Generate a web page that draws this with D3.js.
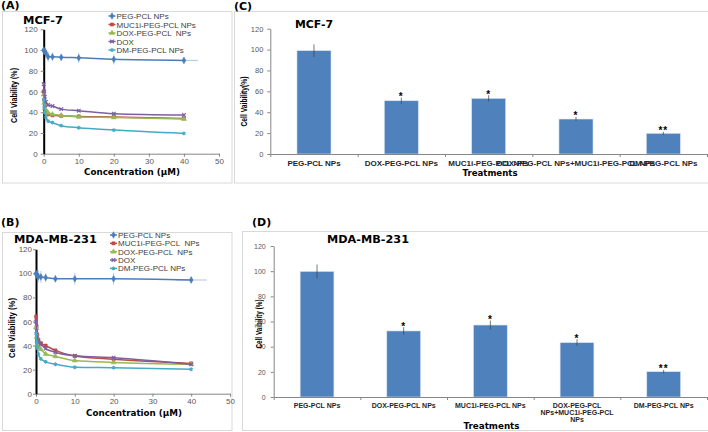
<!DOCTYPE html>
<html><head><meta charset="utf-8">
<script src="https://cdn.jsdelivr.net/npm/d3@7"></script>
<style>
body{margin:0;background:#fff}
svg{display:block}
text{font-family:"Liberation Sans",Arial,sans-serif}
</style>
</head><body>
<svg id="c" width="708" height="432"></svg>
<script>
// ---------- data ----------
const concentrations = [0, 0.156, 0.3125, 0.625, 1.25, 2.5, 5, 10, 20, 40];
const seriesNamesA = ["PEG-PCL NPs", "MUC1i-PEG-PCL NPs", "DOX-PEG-PCL  NPs", "DOX", "DM-PEG-PCL NPs"];
const seriesNamesB = ["PEG-PCL NPs", "MUC1i-PEG-PCL  NPs", "DOX-PEG-PCL  NPs", "DOX", "DM-PEG-PCL NPs"];

const mcfPEG    = [100, 99, 98.5, 97, 93.5, 93.5, 93, 92.5, 91, 90];
const mcfMUC1i  = [60, 52, 46, 41, 38, 37, 36.5, 36, 35.5, 34];
const mcfDOXPEG = [57, 49, 44, 41, 39.5, 38, 37, 35.5, 35, 33.5];
const mcfDOX    = [67, 60, 55, 50, 47, 46, 43, 41.5, 38.6, 37.3];
const mcfDM     = [52, 45, 40, 35, 31.5, 30, 27, 25, 22.8, 19.6];

const mdaPEG    = [100, 99, 98, 97.5, 97, 96.5, 95.5, 95.5, 95.5, 94.5];
const mdaMUC1i  = [64, 56, 49, 45, 42, 40, 36, 31.3, 28.6, 25.2];
const mdaDOXPEG = [55, 47, 41, 39, 37, 33, 31, 27.5, 26, 24.5];
const mdaDOX    = [60, 52, 46, 43, 41, 37.5, 34.5, 31.5, 29.9, 24.4];
const mdaDM     = [50, 43, 38, 33, 29, 26.5, 24.5, 22, 21.6, 20.3];

const pegErr   = [2, 3, 3, 5, 5, 4, 3, 5, 5, 3];
const otherErr = [3, 2, 2, 2, 1.5, 1, 1, 1, 1, 1];
const pegLastXErr = 4;

const concTicks = [0, 10, 20, 30, 40, 50];
const viabTicks = [0, 20, 40, 60, 80, 100, 120];

const treatments = ["PEG-PCL NPs", "DOX-PEG-PCL NPs", "MUC1i-PEG-PCL NPs", "DOX-PEG-PCL NPs+MUC1i-PEG-PCL NPs", "DM-PEG-PCL NPs"];
const mcfBar    = [99, 51, 53.3, 33.5, 19.8];
const mcfBarErr = [6, 3, 3, 2, 1.5];
const mdaBar    = [99.8, 52.5, 57.2, 43.2, 20.1];
const mdaBarErr = [5.5, 3, 3.5, 2.7, 1.4];
const sigMarks  = ["", "*", "*", "*", "**"];

// ---------- styles ----------
const colors = ["#4A7EBB", "#BE4B48", "#98B954", "#7D60A0", "#46AAC5"];
const symbols = [d3.symbolDiamond, d3.symbolSquare, d3.symbolTriangle, d3.symbolX, d3.symbolAsterisk];
const symSizes = [13, 10, 11, 10, 10];
const symFilled = [true, true, true, false, false];
const gray = "#868686", tickTxt = "#595959";

const svg = d3.select("#c");

function frame(x, y, w, h) {
  svg.append("rect").attr("x", x).attr("y", y).attr("width", w).attr("height", h)
    .attr("fill", "#fff").attr("stroke", "#d9d9d9").attr("stroke-width", 1);
}
function panelLabel(t, x, y) {
  svg.append("text").attr("x", x).attr("y", y).text(t)
    .style("font-family", "'DejaVu Sans',sans-serif").style("font-weight", "bold").style("font-size", "11px").attr("fill", "#000");
}
function title(t, x, y, len) {
  svg.append("text").attr("x", x).attr("y", y).text(t)
    .style("font-family", "'DejaVu Sans',sans-serif").style("font-weight", "bold").style("font-size", "10.5px")
    .attr("textLength", len).attr("lengthAdjust", "spacingAndGlyphs").attr("fill", "#000");
}
function yLabel(t, x, y, len) {
  svg.append("text").attr("transform", `translate(${x},${y}) rotate(-90)`).attr("text-anchor", "middle").text(t)
    .style("font-family", "'Liberation Sans',Arial,sans-serif").style("font-weight", "bold").style("font-size", "9.5px")
    .attr("textLength", len).attr("lengthAdjust", "spacingAndGlyphs").attr("fill", "#000");
}
function xLabel(t, x, y, len, size) {
  svg.append("text").attr("x", x).attr("y", y).attr("text-anchor", "middle").text(t)
    .style("font-family", "'DejaVu Sans',sans-serif").style("font-weight", "bold").style("font-size", size + "px")
    .attr("textLength", len).attr("lengthAdjust", "spacingAndGlyphs").attr("fill", "#000");
}
function styleAxis(a, domainColor, domainWidth, fs) {
  a.select(".domain").attr("stroke", domainColor).attr("stroke-width", domainWidth);
  a.selectAll(".tick line").attr("stroke", gray);
  a.selectAll(".tick text").attr("fill", tickTxt).style("font-size", fs + "px").style("font-family", "'Liberation Sans',Arial,sans-serif");
}

function linePanel(o) {
  frame(o.fx, o.fy, o.fw, o.fh);
  panelLabel(o.label, o.lx, o.ly);
  const x = d3.scaleLinear().domain([0, 50]).range([o.x0, o.x1]);
  const y = d3.scaleLinear().domain([0, 120]).range([o.y0, o.y1]);
  const g = svg.append("g");
  const xa = g.append("g").attr("transform", `translate(0,${o.y0})`)
    .call(d3.axisBottom(x).tickValues(concTicks).tickSize(3).tickSizeOuter(0).tickPadding(1.5));
  styleAxis(xa, gray, 1, 8);
  const ya = g.append("g").attr("transform", `translate(${o.x0},0)`)
    .call(d3.axisLeft(y).tickValues(viabTicks).tickSize(3).tickSizeOuter(0).tickPadding(o.yPad));
  styleAxis(ya, "#000", 2, 8);

  const line = d3.line().x((d, i) => x(concentrations[i])).y(d => y(d)).curve(d3.curveMonotoneX);
  o.series.forEach((vals, s) => {
    const errs = s === 0 ? pegErr : otherErr;
    const sg = g.append("g");
    vals.forEach((v, i) => {
      sg.append("line").attr("x1", x(concentrations[i])).attr("x2", x(concentrations[i]))
        .attr("y1", y(v - errs[i])).attr("y2", y(v + errs[i]))
        .attr("stroke", s === 0 ? "#9fb3cf" : colors[s]).attr("stroke-width", 0.8).attr("opacity", 0.8);
    });
    if (s === 0) {
      const li = vals.length - 1;
      sg.append("line").attr("x1", x(concentrations[li] - pegLastXErr)).attr("x2", x(concentrations[li] + pegLastXErr))
        .attr("y1", y(vals[li])).attr("y2", y(vals[li])).attr("stroke", "#9fb3cf").attr("stroke-width", 0.8);
    }
    sg.append("path").datum(vals).attr("d", line).attr("fill", "none")
      .attr("stroke", colors[s]).attr("stroke-width", 1.5);
    sg.selectAll("path.m").data(vals).join("path").attr("class", "m")
      .attr("transform", (d, i) => `translate(${x(concentrations[i])},${y(d)})`)
      .attr("d", d3.symbol(symbols[s], symSizes[s])())
      .attr("fill", symFilled[s] ? colors[s] : "none")
      .attr("stroke", colors[s]).attr("stroke-width", symFilled[s] ? 0.5 : 1.2);
  });

  o.names.forEach((n, s) => {
    const yy = o.legY + s * o.legStep;
    svg.append("line").attr("x1", o.legX).attr("x2", o.legX + 7).attr("y1", yy).attr("y2", yy)
      .attr("stroke", colors[s]).attr("stroke-width", 1.5);
    svg.append("path").attr("transform", `translate(${o.legX + 3.5},${yy})`)
      .attr("d", d3.symbol(symbols[s], symSizes[s])())
      .attr("fill", symFilled[s] ? colors[s] : "none")
      .attr("stroke", colors[s]).attr("stroke-width", symFilled[s] ? 0.5 : 1.2);
    svg.append("text").attr("x", o.legX + 8).attr("y", yy + 3).text(n)
      .style("font-size", "8px").style("white-space", "pre").attr("fill", "#404040");
  });

  title(o.title, o.tx, o.ty, o.tlen);
  xLabel("Concentration (µM)", o.xlx, o.xly, 96, 9.5);
  yLabel("Cell Viability (%)", o.ylx, o.yly, o.ylen);
}

function wrap(textSel, width) {
  textSel.each(function () {
    const t = d3.select(this);
    const words = t.text().split(/\s+/);
    const yAttr = t.attr("y"), dy = parseFloat(t.attr("dy")) || 0;
    t.text(null);
    let line = [], lineNo = 0;
    let tspan = t.append("tspan").attr("x", 0).attr("y", yAttr).attr("dy", dy + "em");
    words.forEach(w => {
      line.push(w);
      tspan.text(line.join(" "));
      if (tspan.node().getComputedTextLength() > width && line.length > 1) {
        line.pop();
        tspan.text(line.join(" "));
        line = [w];
        lineNo++;
        tspan = t.append("tspan").attr("x", 0).attr("y", yAttr).attr("dy", (lineNo * 1.0 + dy) + "em").text(w);
      }
    });
  });
}

function barPanel(o) {
  frame(o.fx, o.fy, o.fw, o.fh);
  panelLabel(o.label, o.lx, o.ly);
  const x = d3.scaleBand().domain(treatments).range([o.x0, o.x1]).paddingInner(0.61).paddingOuter(0.305);
  const xb = d3.scaleLinear().domain([0, treatments.length]).range([o.x0, o.x1]);
  const y = d3.scaleLinear().domain([0, 120]).range([o.y0, o.y1]);
  const g = svg.append("g");

  g.selectAll("rect.bar").data(o.values).join("rect").attr("class", "bar")
    .attr("x", (d, i) => x(treatments[i])).attr("width", x.bandwidth())
    .attr("y", d => y(d)).attr("height", d => y(0) - y(d))
    .attr("fill", "#4F81BD").attr("stroke", "#dbe5f1").attr("stroke-width", 0.6);

  g.selectAll("line.err").data(o.values).join("line").attr("class", "err")
    .attr("x1", (d, i) => x(treatments[i]) + x.bandwidth() / 2).attr("x2", (d, i) => x(treatments[i]) + x.bandwidth() / 2)
    .attr("y1", (d, i) => y(d - o.errs[i])).attr("y2", (d, i) => y(d + o.errs[i]))
    .attr("stroke", "#404040").attr("stroke-width", 0.7);

  g.selectAll("text.sig").data(sigMarks).join("text").attr("class", "sig")
    .attr("x", (d, i) => x(treatments[i]) + x.bandwidth() / 2)
    .attr("y", (d, i) => y(o.values[i] + o.errs[i]) + 2.5)
    .attr("text-anchor", "middle").text(d => d)
    .style("font-size", "10px").style("font-weight", "bold").style("letter-spacing", "1px").attr("fill", "#000");

  const ya = g.append("g").attr("transform", `translate(${o.x0},0)`)
    .call(d3.axisLeft(y).tickValues(viabTicks).tickSize(3).tickSizeOuter(0).tickPadding(o.yPad));
  styleAxis(ya, gray, 1, o.yfs);

  const xt = g.append("g").attr("transform", `translate(0,${o.y0})`)
    .call(d3.axisBottom(xb).ticks(treatments.length).tickFormat("").tickSize(3).tickSizeOuter(0));
  styleAxis(xt, gray, 1, 7);

  const xa = g.append("g").attr("transform", `translate(0,${o.y0})`)
    .call(d3.axisBottom(x).tickSize(0).tickPadding(o.xPad));
  xa.select(".domain").remove();
  xa.selectAll(".tick text").attr("fill", "#262626").style("font-size", o.xfs + "px").style("font-weight", "bold")
    .style("font-family", "'Liberation Sans',Arial,sans-serif");
  if (o.wrap) wrap(xa.selectAll(".tick text"), o.wrap);

  title(o.title, o.tx, o.ty, o.tlen);
  xLabel("Treatments", o.xlx, o.xly, o.xllen, 9);
  yLabel(o.ylabel, o.ylx, o.yly, o.ylen);
}

linePanel({
  label: "(A)", lx: 1, ly: 9,
  fx: 2.5, fy: 11.5, fw: 229.5, fh: 171.5,
  x0: 43.7, x1: 219, y0: 153.7, y1: 29.3, yPad: 3,
  series: [mcfPEG, mcfMUC1i, mcfDOXPEG, mcfDOX, mcfDM], names: seriesNamesA,
  legX: 108.5, legY: 16, legStep: 8.5,
  title: "MCF-7", tx: 23, ty: 24, tlen: 40,
  xlx: 132, xly: 174.5, ylx: 17, yly: 95.5, ylen: 55
});

linePanel({
  label: "(B)", lx: 1, ly: 226,
  fx: 2.5, fy: 232.5, fw: 229.5, fh: 198,
  x0: 36, x1: 230, y0: 393.7, y1: 249.3, yPad: 1,
  series: [mdaPEG, mdaMUC1i, mdaDOXPEG, mdaDOX, mdaDM], names: seriesNamesB,
  legX: 110, legY: 235, legStep: 8.35,
  title: "MDA-MB-231", tx: 14, ty: 243, tlen: 83,
  xlx: 134, xly: 415.5, ylx: 15, yly: 328, ylen: 60
});

barPanel({
  label: "(C)", lx: 234, ly: 10,
  fx: 234.5, fy: 11.5, fw: 480, fh: 171.5,
  x0: 270.3, x1: 707, y0: 154, y1: 28.7, yPad: 4, yfs: 7.5,
  values: mcfBar, errs: mcfBarErr, xfs: 8, xPad: 6.5, wrap: null,
  title: "MCF-7", tx: 295, ty: 28, tlen: 38,
  xlx: 490, xly: 176, xllen: 55,
  ylabel: "Cell Vaibility(%)", ylx: 246.5, yly: 101.5, ylen: 50
});

barPanel({
  label: "(D)", lx: 252, ly: 226,
  fx: 242.5, fy: 231.5, fw: 480, fh: 199,
  x0: 273.7, x1: 707, y0: 397, y1: 246, yPad: 5, yfs: 7,
  values: mdaBar, errs: mdaBarErr, xfs: 7, xPad: 6, wrap: 84,
  title: "MDA-MB-231", tx: 327, ty: 242.5, tlen: 82,
  xlx: 491.5, xly: 429, xllen: 56,
  ylabel: "Cell Vaibility (%)", ylx: 261.5, yly: 324, ylen: 49
});
</script>
</body></html>
